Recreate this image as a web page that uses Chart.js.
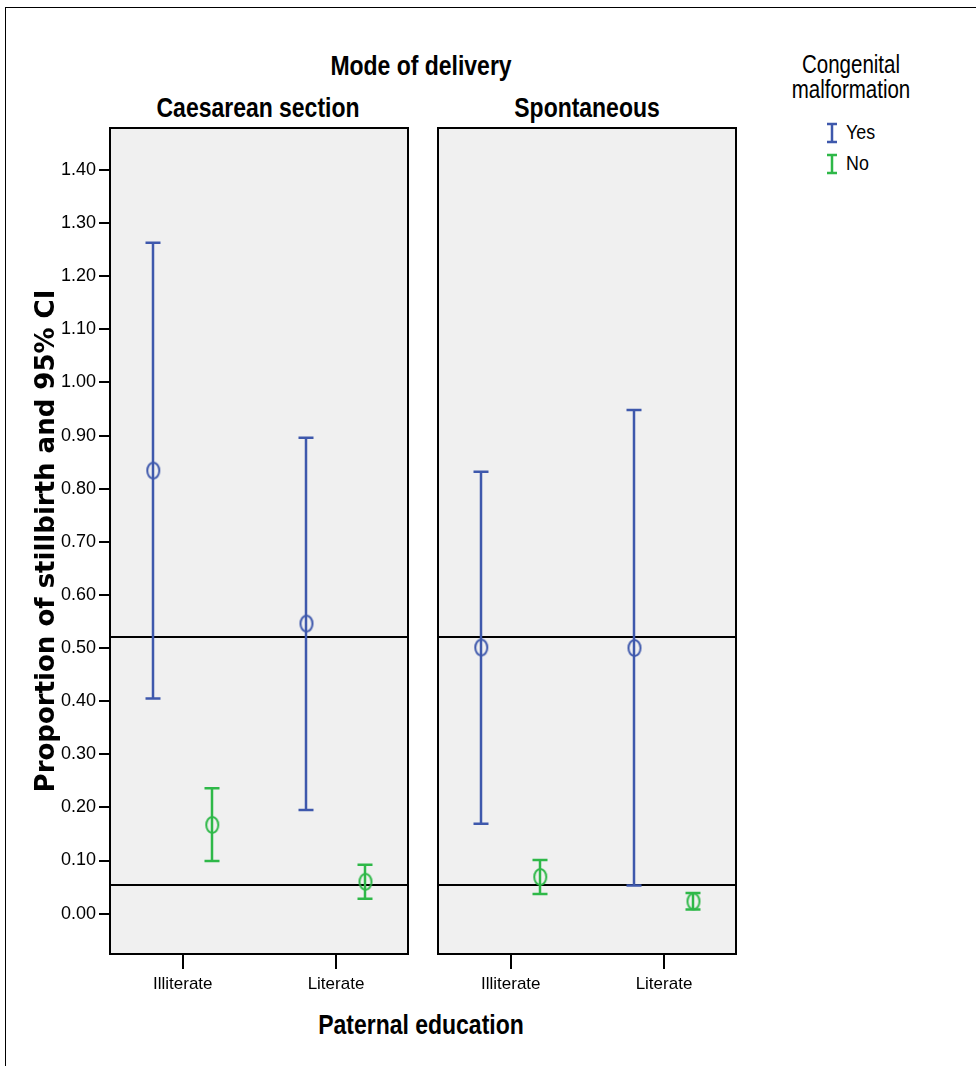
<!DOCTYPE html>
<html>
<head>
<meta charset="utf-8">
<script src="https://cdn.jsdelivr.net/npm/chart.js@4.4.0/dist/chart.umd.min.js"></script>
<style>
  body { margin: 0; background: #fff; width: 976px; height: 1066px; position: relative; overflow: hidden;
         font-family: "Liberation Sans", Arial, sans-serif; color: #000; }
  .frame { position: absolute; left: 5px; top: 7px; width: 1200px; height: 1200px; border: 1px solid #000; }
  .txt { position: absolute; transform: translate(-50%, -50%) scaleX(0.82); white-space: nowrap; }
  .bold { font-weight: bold; font-size: 28px; }
  #c1wrap { position: absolute; left: 0; top: 0; }
  #c2wrap { position: absolute; left: 420px; top: 0; }
  .legend { position: absolute; left: 826px; top: 120px; font-size: 21px; }
  .legend div { height: 31px; display: flex; align-items: flex-start; }
  .legend span { display: inline-block; transform: scaleX(0.85); transform-origin: left center; }
  .legend svg { margin-right: 8px; margin-top: 2px; }
</style>
</head>
<body>
<div class="frame"></div>

<div class="txt bold" style="left:421px; top:66px;">Mode of delivery</div>
<div class="txt bold" style="left:258px; top:108px;">Caesarean section</div>
<div class="txt bold" style="left:587px; top:108px;">Spontaneous</div>
<div class="txt bold" style="left:421px; top:1025px;">Paternal education</div>
<div class="txt" style="left:851px; top:64px; font-size:25px;">Congenital</div>
<div class="txt" style="left:851px; top:89px; font-size:25px;">malformation</div>

<div class="legend">
  <div><svg width="12" height="22"><path d="M1 2H11M6 2V20M1 20H11" stroke="#3E58AC" stroke-width="2.5" fill="none"/></svg><span>Yes</span></div>
  <div><svg width="12" height="22"><path d="M1 2H11M6 2V20M1 20H11" stroke="#2EB848" stroke-width="2.5" fill="none"/></svg><span>No</span></div>
</div>

<div id="c1wrap"><canvas id="c1" width="420" height="1066"></canvas></div>
<div id="c2wrap"><canvas id="c2" width="330" height="1066"></canvas></div>

<script>
// categories
const educationLabels = ["Illiterate", "Literate"];
const educationPos = [1, 3];
const seriesNames = ["Yes", "No"];
const yTicks = [0, 0.1, 0.2, 0.3, 0.4, 0.5, 0.6, 0.7, 0.8, 0.9, 1.0, 1.1, 1.2, 1.3, 1.4];
const refLines = [0.521, 0.054];

// Caesarean section
const csYesMean = [0.834, 0.546];
const csYesLow = [0.405, 0.195];
const csYesHigh = [1.263, 0.896];
const csNoMean = [0.167, 0.060];
const csNoLow = [0.099, 0.028];
const csNoHigh = [0.236, 0.092];

// Spontaneous
const spYesMean = [0.501, 0.500];
const spYesLow = [0.169, 0.053];
const spYesHigh = [0.832, 0.948];
const spNoMean = [0.069, 0.023];
const spNoLow = [0.037, 0.008];
const spNoHigh = [0.101, 0.039];

const BLUE = "#3E58AC";
const GREEN = "#2EB848";
const TICKFONT = '"Liberation Sans", Arial, sans-serif';

function ellipseMarker(color) {
  const c = document.createElement("canvas");
  c.width = 16; c.height = 20;
  const g = c.getContext("2d");
  g.strokeStyle = color;
  g.lineWidth = 2;
  g.beginPath();
  g.ellipse(8, 10, 6, 8, 0, 0, Math.PI * 2);
  g.stroke();
  return c;
}

const panelPlugin = {
  id: "panel",
  beforeDraw(chart) {
    const { ctx, chartArea: a } = chart;
    ctx.save();
    ctx.fillStyle = "#f0f0f0";
    ctx.fillRect(a.left, a.top, a.width, a.height);
    ctx.restore();
  },
  beforeDatasetsDraw(chart) {
    const { ctx, chartArea: a } = chart;
    const y = chart.scales.y;
    ctx.save();
    ctx.strokeStyle = "#000";
    ctx.lineWidth = 2;
    refLines.forEach(v => {
      const py = Math.round(y.getPixelForValue(v));
      ctx.beginPath();
      ctx.moveTo(a.left, py);
      ctx.lineTo(a.right, py);
      ctx.stroke();
    });
    chart.data.datasets.forEach((ds, i) => {
      const meta = chart.getDatasetMeta(i);
      ctx.strokeStyle = ds.borderColor;
      ctx.lineWidth = 2.5;
      meta.data.forEach((pt, j) => {
        const x = Math.round(pt.x);
        const lo = y.getPixelForValue(ds.low[j]);
        const hi = y.getPixelForValue(ds.high[j]);
        ctx.beginPath();
        ctx.moveTo(x, lo); ctx.lineTo(x, hi);
        ctx.moveTo(x - 7.5, lo); ctx.lineTo(x + 7.5, lo);
        ctx.moveTo(x - 7.5, hi); ctx.lineTo(x + 7.5, hi);
        ctx.stroke();
      });
    });
    ctx.restore();
  },
  afterDraw(chart) {
    const { ctx, chartArea: a } = chart;
    ctx.save();
    ctx.strokeStyle = "#000";
    ctx.lineWidth = 2;
    ctx.strokeRect(a.left, a.top, a.width, a.height);
    ctx.restore();
  }
};

function points(means, offset) {
  return means.map((m, i) => ({ x: educationPos[i] + offset, y: m }));
}

function makePanel(id, yesMean, yesLow, yesHigh, noMean, noLow, noHigh, showY, padding) {
  new Chart(document.getElementById(id), {
    type: "scatter",
    data: {
      datasets: [
        { label: seriesNames[0], data: points(yesMean, -0.385), low: yesLow, high: yesHigh,
          borderColor: BLUE, pointStyle: ellipseMarker(BLUE) },
        { label: seriesNames[1], data: points(noMean, 0.385), low: noLow, high: noHigh,
          borderColor: GREEN, pointStyle: ellipseMarker(GREEN) }
      ]
    },
    options: {
      responsive: false,
      animation: false,
      layout: { padding: padding },
      plugins: { legend: { display: false }, tooltip: { enabled: false } },
      scales: {
        x: {
          type: "linear",
          min: 0.05, max: 3.94,
          afterBuildTicks: s => { s.ticks = educationPos.map(v => ({ value: v })); },
          afterFit: s => { s.height = 60; },
          ticks: {
            color: "#000",
            font: { family: TICKFONT, size: 17 },
            padding: 5,
            maxRotation: 0,
            callback: v => educationLabels[educationPos.indexOf(v)]
          },
          grid: { drawOnChartArea: false, color: "#000", lineWidth: 2, tickLength: 15 },
          border: { display: false }
        },
        y: {
          display: showY,
          min: -0.076, max: 1.479,
          afterBuildTicks: s => { s.ticks = yTicks.map(v => ({ value: v })); },
          afterFit: s => { if (showY) s.width = 110; },
          ticks: {
            color: "#000",
            font: { family: TICKFONT, size: 18 },
            padding: 3,
            callback: v => v.toFixed(2)
          },
          grid: { drawOnChartArea: false, color: "#000", lineWidth: 2, tickLength: 11 },
          border: { display: false },
          title: {
            display: true,
            text: "Proportion of stillbirth and 95% CI",
            color: "#000",
            font: { family: '"DejaVu Sans", Verdana, sans-serif', size: 26, weight: "bold" },
            padding: { top: 32, bottom: 0 }
          }
        }
      }
    },
    plugins: [panelPlugin]
  });
}

makePanel("c1", csYesMean, csYesLow, csYesHigh, csNoMean, csNoLow, csNoHigh, true,
  { top: 128, left: 0, right: 12, bottom: 52 });
makePanel("c2", spYesMean, spYesLow, spYesHigh, spNoMean, spNoLow, spNoHigh, false,
  { top: 128, left: 18, right: 14, bottom: 52 });
</script>
</body>
</html>
